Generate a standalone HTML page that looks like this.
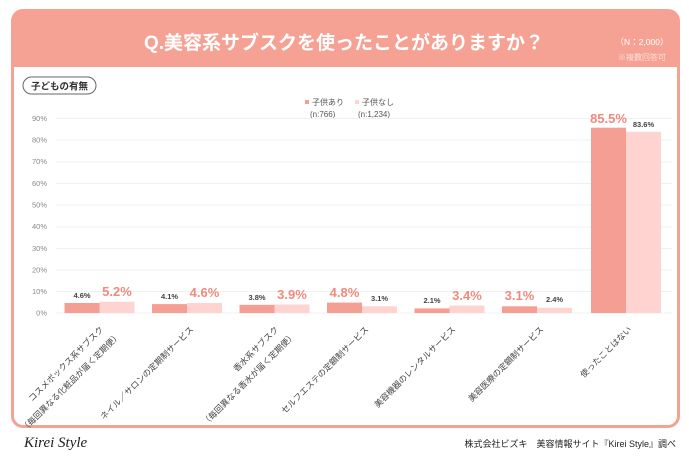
<!DOCTYPE html>
<html><head><meta charset="utf-8"><style>
body{margin:0;width:689px;height:460px;background:#fff;font-family:"Liberation Sans","Noto Sans CJK JP",sans-serif;overflow:hidden}
</style></head><body>
<svg width="689" height="460" xmlns="http://www.w3.org/2000/svg" font-family="Liberation Sans, Noto Sans CJK JP, sans-serif">
<rect x="11" y="9" width="669" height="419" rx="12" fill="#f5a193"/>
<rect x="14" y="67" width="663" height="358" rx="9" fill="#fff"/>
<rect x="14" y="67" width="663" height="12" fill="#fff"/>
<text x="344" y="49" text-anchor="middle" font-size="19" fill="#fff" font-weight="bold">Q.美容系サブスクを使ったことがありますか？</text>
<text x="642" y="45" text-anchor="middle" font-size="8.5" fill="#fff">（N：2,000）</text>
<text x="642" y="60" text-anchor="middle" font-size="8" fill="#fde0da">※複数回答可</text>
<rect x="23" y="77" width="73" height="17" rx="8.5" fill="#fff" stroke="#666" stroke-width="1"/>
<text x="59.5" y="89.5" text-anchor="middle" font-size="9.5" fill="#333" font-weight="bold">子どもの有無</text>
<rect x="305" y="100" width="4" height="4" fill="#f59e93"/><text x="312" y="105" font-size="8" fill="#555">子供あり</text>
<text x="310" y="117" font-size="8" fill="#555">(n:766)</text>
<rect x="355" y="100" width="4" height="4" fill="#ffd3d0"/><text x="362" y="105" font-size="8" fill="#555">子供なし</text>
<text x="358" y="117" font-size="8" fill="#555">(n:1,234)</text>
<g font-size="7.5" fill="#888" text-anchor="end">
<text x="47" y="121">90%</text><text x="47" y="142.5">80%</text><text x="47" y="164">70%</text><text x="47" y="186">60%</text><text x="47" y="207.5">50%</text><text x="47" y="229">40%</text><text x="47" y="251">30%</text><text x="47" y="272.5">20%</text><text x="47" y="294">10%</text><text x="47" y="315.5">0%</text>
</g>
<g stroke="#f0f0f0" stroke-width="1">
<line x1="56" x2="672" y1="118.5" y2="118.5"/><line x1="56" x2="672" y1="140" y2="140"/><line x1="56" x2="672" y1="162" y2="162"/><line x1="56" x2="672" y1="183.5" y2="183.5"/><line x1="56" x2="672" y1="205" y2="205"/><line x1="56" x2="672" y1="227" y2="227"/><line x1="56" x2="672" y1="248.5" y2="248.5"/><line x1="56" x2="672" y1="270" y2="270"/><line x1="56" x2="672" y1="291.5" y2="291.5"/><line x1="56" x2="672" y1="313" y2="313"/>
</g>
<g>
<rect x="64.5" y="303" width="35" height="10" fill="#f59e93"/><rect x="99.5" y="301.7" width="35" height="11.3" fill="#ffd3d0"/>
<rect x="152" y="304.1" width="35" height="8.9" fill="#f59e93"/><rect x="187" y="303" width="35" height="10" fill="#ffd3d0"/>
<rect x="239.5" y="304.8" width="35" height="8.2" fill="#f59e93"/><rect x="274.5" y="304.5" width="35" height="8.5" fill="#ffd3d0"/>
<rect x="327" y="302.6" width="35" height="10.4" fill="#f59e93"/><rect x="362" y="306.3" width="35" height="6.7" fill="#ffd3d0"/>
<rect x="414.5" y="308.4" width="35" height="4.6" fill="#f59e93"/><rect x="449.5" y="305.6" width="35" height="7.4" fill="#ffd3d0"/>
<rect x="502" y="306.3" width="35" height="6.7" fill="#f59e93"/><rect x="537" y="307.8" width="35" height="5.2" fill="#ffd3d0"/>
<rect x="591" y="127.7" width="35" height="185.3" fill="#f59e93"/><rect x="626" y="131.8" width="35" height="181.2" fill="#ffd3d0"/>
</g>
<g font-size="7.5" fill="#444" font-weight="bold" text-anchor="middle">
<text x="82" y="298">4.6%</text><text x="169.5" y="299">4.1%</text><text x="257" y="300">3.8%</text><text x="379.5" y="301">3.1%</text><text x="432" y="303">2.1%</text><text x="554.5" y="302">2.4%</text><text x="643.5" y="127">83.6%</text>
</g>
<g font-size="13" fill="#f08a7e" font-weight="bold" text-anchor="middle">
<text x="117" y="296">5.2%</text><text x="204.5" y="297">4.6%</text><text x="292" y="299">3.9%</text><text x="344.5" y="297">4.8%</text><text x="467" y="300">3.4%</text><text x="519.5" y="300">3.1%</text><text x="608.5" y="123">85.5%</text>
</g>
<g font-size="8.5" fill="#444" text-anchor="end">
<text transform="translate(104,330) rotate(-45)">コスメボックス系サブスク</text>
<text transform="translate(121,336) rotate(-45)">（毎回異なる化粧品が届く定期便）</text>
<text transform="translate(194,330) rotate(-45)">ネイル／サロンの定期制サービス</text>
<text transform="translate(279,330) rotate(-45)">香水系サブスク</text>
<text transform="translate(296,336) rotate(-45)">（毎回異なる香水が届く定期便）</text>
<text transform="translate(369,330) rotate(-45)">セルフエステの定額制サービス</text>
<text transform="translate(456,330) rotate(-45)">美容機器のレンタルサービス</text>
<text transform="translate(544,330) rotate(-45)">美容医療の定額制サービス</text>
<text transform="translate(632,330) rotate(-45)">使ったことはない</text>
</g>
<text x="24" y="447" font-family="Liberation Serif, serif" font-style="italic" font-size="15" fill="#222">Kirei Style</text>
<text x="676" y="447" text-anchor="end" font-size="9" fill="#222">株式会社ビズキ　美容情報サイト『Kirei Style』調べ</text>
</svg>
</body></html>
